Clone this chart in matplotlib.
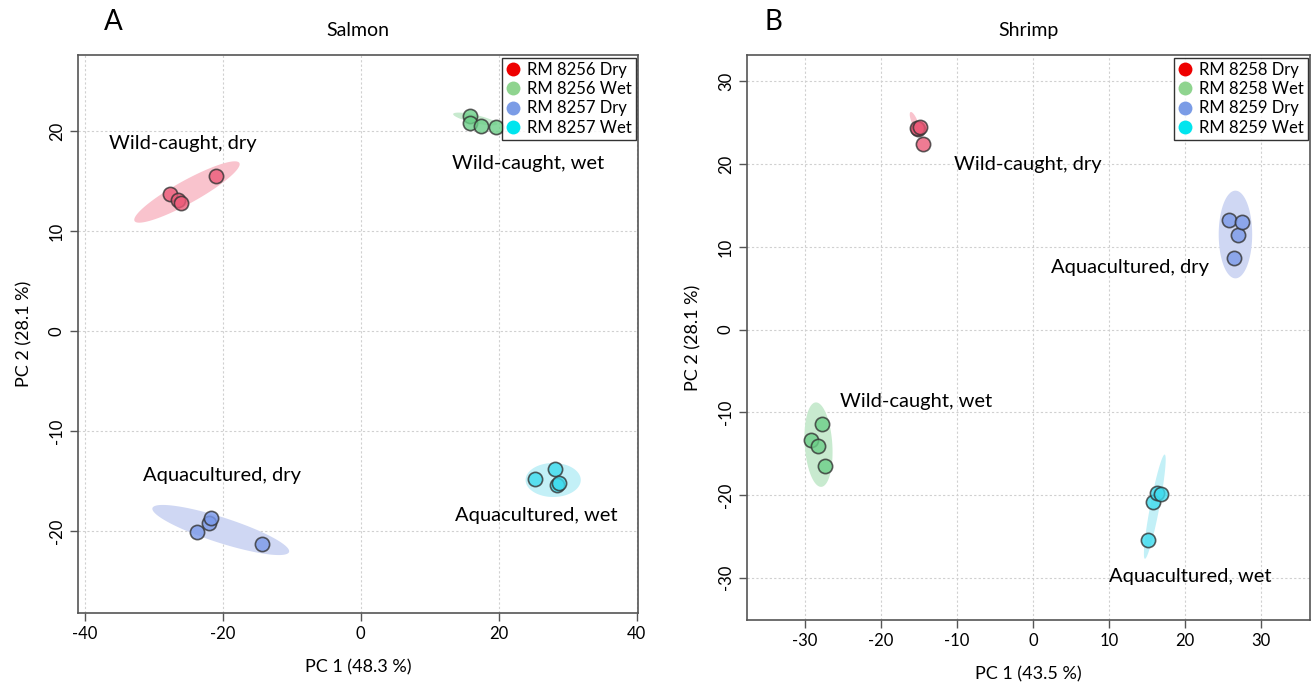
import numpy as np
import matplotlib
matplotlib.use("Agg")
import matplotlib.pyplot as plt
from matplotlib.lines import Line2D

plt.rcParams['font.family'] = ['Lato', 'DejaVu Sans']
plt.rcParams['axes.unicode_minus'] = False

# ---------------- data ----------------
salmon_groups = ["RM 8256 Dry", "RM 8256 Wet", "RM 8257 Dry", "RM 8257 Wet"]
salmon_pc1 = [[-27.7, -26.5, -26.1, -21.0],
              [15.9, 15.8, 17.4, 19.6],
              [-23.8, -22.0, -21.7, -14.3],
              [25.2, 28.1, 28.4, 28.8]]
salmon_pc2 = [[13.7, 13.1, 12.8, 15.5],
              [21.5, 20.8, 20.5, 20.4],
              [-20.1, -19.2, -18.7, -21.3],
              [-14.8, -13.8, -15.4, -15.2]]
# ellipses: centre, end of major semi-axis, end of minor semi-axis (data units)
salmon_ell_center = [(-25.2, 13.9), (16.6, 21.2), (-20.3, -19.9), (27.9, -14.9)]
salmon_ell_major = [(-17.6, 16.8), (19.8, 20.7), (-10.4, -22.1), (31.9, -14.9)]
salmon_ell_minor = [(-24.4, 12.9), (16.5, 20.8), (-20.9, -21.1), (27.9, -13.2)]
salmon_labels = ["Wild-caught, dry", "Wild-caught, wet", "Aquacultured, dry", "Aquacultured, wet"]
salmon_label_xy = [(-25.8, 18.7), (24.2, 16.8), (-20.1, -14.5), (25.5, -18.4)]

shrimp_groups = ["RM 8258 Dry", "RM 8258 Wet", "RM 8259 Dry", "RM 8259 Wet"]
shrimp_pc1 = [[-14.5, -15.1, -15.3, -14.9],
              [-29.2, -28.3, -27.8, -27.4],
              [26.4, 27.0, 25.7, 27.5],
              [15.1, 15.8, 16.3, 16.8]]
shrimp_pc2 = [[22.4, 24.2, 24.4, 24.5],
              [-13.3, -14.1, -11.4, -16.5],
              [8.6, 11.4, 13.3, 13.0],
              [-25.4, -20.8, -19.8, -19.9]]
shrimp_ell_center = [(-15.6, 25.2), (-28.2, -13.9), (26.6, 11.5), (16.0, -21.4)]
shrimp_ell_major = [(-16.1, 26.3), (-28.6, -8.8), (26.6, 16.8), (17.3, -15.1)]
shrimp_ell_minor = [(-15.25, 25.35), (-26.4, -13.7), (28.8, 11.5), (16.6, -21.5)]
shrimp_labels = ["Wild-caught, dry", "Wild-caught, wet", "Aquacultured, dry", "Aquacultured, wet"]
shrimp_label_xy = [(-0.7, 20.0), (-15.4, -8.7), (12.8, 7.5), (20.7, -29.9)]

legend_colors = ["#ee0000", "#8fd48f", "#7b9ce6", "#00e5ee"]
point_colors = ["#ec5a78", "#6ccf88", "#7b9aea", "#3ddbee"]
ellipse_colors = ["#f9c3cd", "#c8eacf", "#cfd7f3", "#c3f0f7"]


def ellipse_xy(c, a, b, n=200):
    t = np.linspace(0, 2 * np.pi, n)
    c = np.asarray(c); a = np.asarray(a) - c; b = np.asarray(b) - c
    x = c[0] + np.cos(t) * a[0] + np.sin(t) * b[0]
    y = c[1] + np.cos(t) * a[1] + np.sin(t) * b[1]
    return x, y


def draw_panel(ax, groups, pc1, pc2, ec, em, en, labels, label_xy,
               xticks, yticks, xlim, ylim, xlabel, ylabel, title):
    ax.set_xlim(*xlim)
    ax.set_ylim(*ylim)
    ax.set_xticks(xticks)
    ax.set_yticks(yticks)
    ax.grid(True, color="#d0d0d0", linestyle=(0, (2, 2)), linewidth=0.8)
    ax.set_axisbelow(True)
    for i in range(len(groups)):
        ex, ey = ellipse_xy(ec[i], em[i], en[i])
        ax.fill(ex, ey, color=ellipse_colors[i], lw=0, zorder=2)
    for i in range(len(groups)):
        ax.scatter(pc1[i], pc2[i], s=105, facecolor=point_colors[i],
                   edgecolor="#333333", linewidth=1.2, alpha=0.8, zorder=3)
    for lab, (x, y) in zip(labels, label_xy):
        ax.text(x, y, lab, ha="center", va="center", fontsize=14.5, zorder=4)
    for s in ax.spines.values():
        s.set_color("#555555")
        s.set_linewidth(1.2)
    ax.tick_params(axis="both", direction="out", length=6, width=1,
                   color="#555555", labelsize=12)
    for lab in ax.get_yticklabels():
        lab.set_rotation(90)
        lab.set_va("center")
    ax.set_xlabel(xlabel, fontsize=13, labelpad=12)
    ax.set_ylabel(ylabel, fontsize=13, labelpad=12)
    ax.set_title(title, fontsize=14, pad=14)
    handles = [Line2D([0], [0], marker="o", linestyle="", markersize=10,
                      markerfacecolor=legend_colors[i], markeredgecolor="none")
               for i in range(len(groups))]
    leg = ax.legend(handles, groups, loc="upper right", fontsize=12,
                    frameon=True, fancybox=False, borderaxespad=0.15,
                    handlelength=0.9, handletextpad=0.35, labelspacing=0.2,
                    borderpad=0.25)
    leg.get_frame().set_edgecolor("black")
    leg.get_frame().set_linewidth(1.0)
    leg.set_zorder(5)


fig = plt.figure(figsize=(13.15, 6.85), dpi=100)
axL = fig.add_axes([78 / 1315, 1 - 613 / 685, 560 / 1315, 558 / 685])
axR = fig.add_axes([747 / 1315, 1 - 620 / 685, 563 / 1315, 565 / 685])

draw_panel(axL, salmon_groups, salmon_pc1, salmon_pc2, salmon_ell_center,
           salmon_ell_major, salmon_ell_minor, salmon_labels, salmon_label_xy,
           [-40, -20, 0, 20, 40], [-20, -10, 0, 10, 20],
           (-41.0, 40.2), (-28.2, 27.6), "PC 1 (48.3 %)", "PC 2 (28.1 %)", "Salmon")
draw_panel(axR, shrimp_groups, shrimp_pc1, shrimp_pc2, shrimp_ell_center,
           shrimp_ell_major, shrimp_ell_minor, shrimp_labels, shrimp_label_xy,
           [-30, -20, -10, 0, 10, 20, 30], [-30, -20, -10, 0, 10, 20, 30],
           (-37.6, 36.4), (-35.1, 33.2), "PC 1 (43.5 %)", "PC 2 (28.1 %)", "Shrimp")

fig.text(113 / 1315, 1 - 22 / 685, "A", fontsize=20, ha="center", va="center")
fig.text(773 / 1315, 1 - 22 / 685, "B", fontsize=20, ha="center", va="center")

fig.savefig("out.png", dpi=100)
